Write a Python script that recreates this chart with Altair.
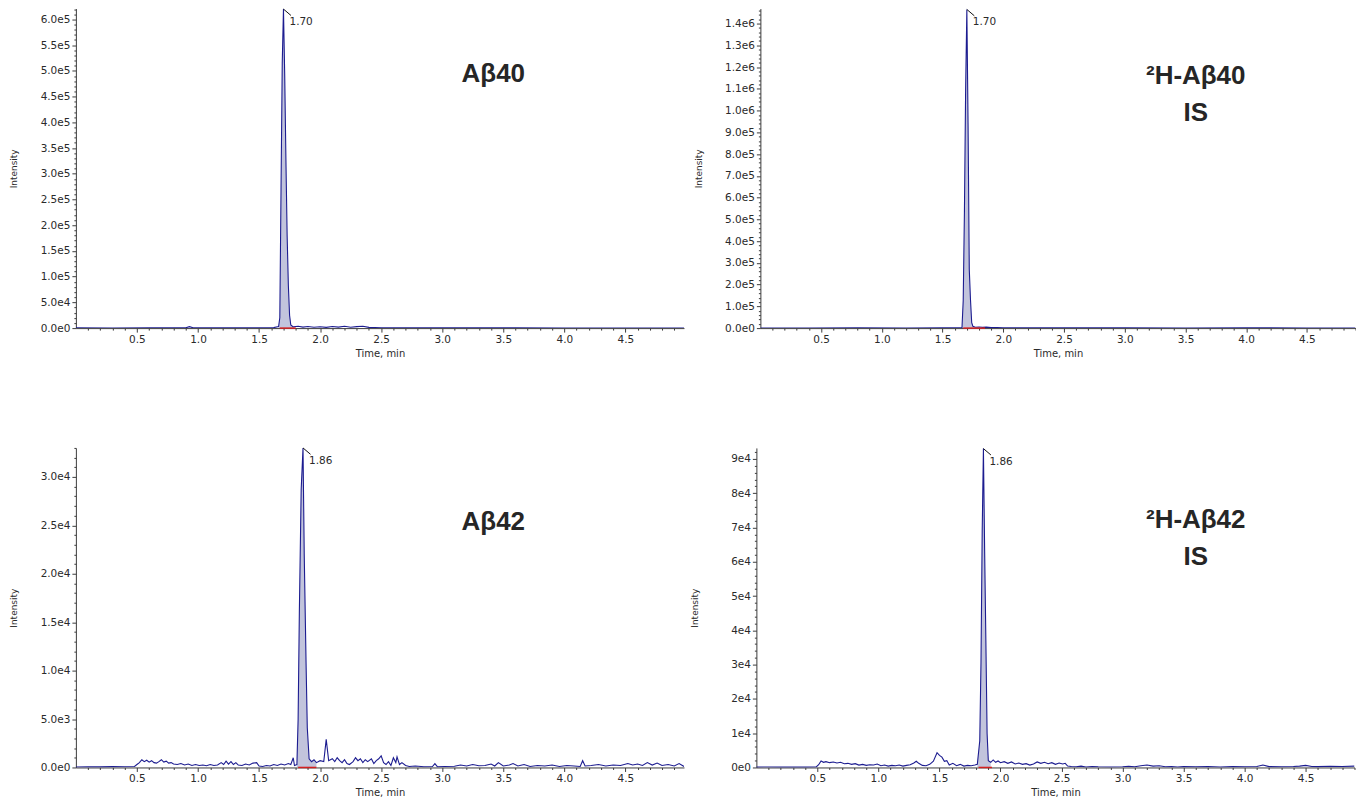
import altair as alt
import pandas as pd

# ---------------- data (time in min, intensity in cps) ----------------
ab40 = [(0.00, 400), (0.30, 300), (0.60, 400), (0.90, 600), (0.93, 2800), (0.96, 600),
        (1.20, 400), (1.50, 500), (1.62, 900), (1.66, 3000), (1.67, 20000), (1.68, 270000),
        (1.69, 516000), (1.70, 620000), (1.71, 493000), (1.72, 328000), (1.73, 180000),
        (1.74, 83000), (1.75, 25000), (1.76, 6000), (1.78, 2500), (1.82, 3500), (1.86, 2000),
        (1.90, 3000), (1.95, 1800), (2.00, 2500), (2.05, 1500), (2.10, 3000), (2.15, 2000),
        (2.20, 3500), (2.25, 1800), (2.30, 2800), (2.35, 3500), (2.40, 1500), (2.50, 800),
        (2.80, 500), (3.20, 400), (3.60, 400), (4.00, 300), (4.40, 300), (4.98, 300)]

ab40_is = [(0.00, 800), (0.40, 700), (0.80, 900), (1.20, 800), (1.50, 1000), (1.62, 1500),
           (1.66, 3000), (1.67, 126000), (1.68, 533000), (1.69, 1100000), (1.70, 1465000),
           (1.71, 940000), (1.72, 270000), (1.73, 130000), (1.74, 25000), (1.75, 8000),
           (1.77, 4000), (1.80, 5000), (1.83, 3500), (1.86, 4500), (1.90, 2500), (1.95, 2000),
           (2.00, 1500), (2.20, 1200), (2.50, 1000), (3.00, 900), (3.50, 800), (4.00, 900),
           (4.50, 800), (4.90, 800)]

ab42 = [(0.00, 50), (0.10, 80), (0.20, 60), (0.30, 90), (0.40, 70), (0.48, 100), (0.50, 300),
        (0.52, 500), (0.54, 800), (0.56, 600), (0.58, 750), (0.60, 550), (0.62, 700), (0.64, 500),
        (0.66, 450), (0.68, 600), (0.70, 800), (0.72, 550), (0.74, 650), (0.76, 450), (0.78, 500),
        (0.80, 350), (0.83, 300), (0.86, 400), (0.89, 250), (0.92, 350), (0.95, 200), (0.98, 300),
        (1.01, 200), (1.04, 250), (1.07, 180), (1.10, 300), (1.13, 200), (1.16, 250), (1.19, 500),
        (1.21, 300), (1.23, 650), (1.25, 350), (1.27, 600), (1.29, 300), (1.31, 500), (1.33, 250),
        (1.36, 200), (1.39, 350), (1.42, 250), (1.45, 450), (1.48, 500), (1.50, 150), (1.53, 100),
        (1.56, 200), (1.59, 150), (1.62, 300), (1.65, 200), (1.68, 350), (1.71, 250), (1.74, 400),
        (1.76, 300), (1.78, 1000), (1.79, 200), (1.81, 300), (1.82, 5000), (1.83, 16000),
        (1.845, 28700), (1.86, 33000), (1.87, 22000), (1.885, 10800), (1.895, 4100), (1.91, 900),
        (1.93, 600), (1.95, 800), (1.97, 500), (2.00, 700), (2.03, 600), (2.05, 2900), (2.07, 700),
        (2.10, 900), (2.12, 600), (2.14, 1000), (2.16, 700), (2.18, 500), (2.20, 800), (2.22, 400),
        (2.24, 300), (2.27, 600), (2.29, 1000), (2.31, 700), (2.33, 900), (2.35, 500), (2.37, 800),
        (2.39, 600), (2.42, 900), (2.44, 400), (2.46, 700), (2.48, 900), (2.50, 1200), (2.52, 500),
        (2.54, 300), (2.56, 600), (2.58, 200), (2.60, 1000), (2.62, 500), (2.63, 1100), (2.65, 300),
        (2.67, 500), (2.70, 200), (2.73, 100), (2.78, 150), (2.85, 80), (2.92, 100), (2.94, 400),
        (2.96, 80), (3.02, 100), (3.10, 120), (3.15, 250), (3.20, 150), (3.25, 300), (3.30, 180),
        (3.35, 200), (3.40, 350), (3.43, 150), (3.46, 500), (3.50, 150), (3.55, 250), (3.58, 400),
        (3.62, 150), (3.67, 300), (3.72, 100), (3.78, 200), (3.84, 150), (3.90, 250), (3.96, 100),
        (4.02, 200), (4.08, 150), (4.13, 100), (4.15, 700), (4.17, 150), (4.22, 200), (4.28, 300),
        (4.34, 150), (4.40, 250), (4.46, 200), (4.52, 400), (4.56, 250), (4.60, 350), (4.64, 200),
        (4.68, 500), (4.72, 250), (4.76, 450), (4.80, 200), (4.85, 300), (4.90, 150), (4.94, 400),
        (4.98, 100)]

ab42_is = [(0.00, 100), (0.10, 150), (0.20, 100), (0.30, 150), (0.40, 100), (0.49, 150),
           (0.51, 800), (0.53, 1900), (0.55, 1500), (0.57, 1700), (0.60, 1400), (0.63, 1600),
           (0.66, 1300), (0.69, 1500), (0.72, 1100), (0.75, 1200), (0.78, 900), (0.81, 1100),
           (0.84, 700), (0.87, 900), (0.90, 600), (0.93, 800), (0.96, 700), (0.99, 1000),
           (1.02, 500), (1.05, 700), (1.08, 400), (1.11, 600), (1.14, 500), (1.17, 700),
           (1.20, 400), (1.23, 600), (1.26, 800), (1.29, 1300), (1.31, 1800), (1.33, 1200),
           (1.36, 600), (1.39, 500), (1.42, 900), (1.45, 1800), (1.48, 4300), (1.50, 3500),
           (1.52, 3000), (1.54, 1800), (1.56, 2000), (1.58, 700), (1.61, 1200), (1.64, 500),
           (1.67, 900), (1.70, 400), (1.73, 600), (1.76, 500), (1.79, 700), (1.81, 900),
           (1.83, 7800), (1.84, 30500), (1.85, 69000), (1.86, 93000), (1.87, 63000),
           (1.88, 37000), (1.89, 10000), (1.90, 2000), (1.92, 1500), (1.94, 2200), (1.96, 1500),
           (1.98, 1900), (2.00, 1400), (2.03, 1700), (2.06, 1200), (2.09, 1600), (2.12, 1000),
           (2.15, 1300), (2.18, 900), (2.21, 1100), (2.24, 700), (2.27, 1000), (2.30, 1600),
           (2.33, 1200), (2.36, 1500), (2.39, 1100), (2.42, 1400), (2.45, 900), (2.48, 1300),
           (2.51, 1000), (2.53, 1200), (2.55, 400), (2.58, 300), (2.62, 200), (2.66, 400),
           (2.70, 150), (2.75, 300), (2.80, 200), (2.90, 150), (3.00, 200), (3.05, 350),
           (3.10, 200), (3.15, 500), (3.20, 700), (3.25, 400), (3.30, 500), (3.35, 200),
           (3.40, 300), (3.45, 150), (3.50, 250), (3.60, 200), (3.70, 300), (3.80, 150),
           (3.90, 250), (4.00, 200), (4.10, 300), (4.15, 700), (4.20, 250), (4.30, 200),
           (4.40, 300), (4.45, 400), (4.50, 600), (4.55, 300), (4.60, 250), (4.70, 350),
           (4.80, 300), (4.90, 400)]

peak_apex_time = [1.70, 1.70, 1.86, 1.86]
peak_apex_int = [620000, 1465000, 33000, 93000]
peak_labels = ["1.70", "1.70", "1.86", "1.86"]
fill_ranges = [(1.66, 1.78), (1.66, 1.77), (1.81, 1.97), (1.81, 1.92)]
base_ranges = [(1.67, 1.80), (1.67, 1.85), (1.82, 1.97), (1.82, 1.93)]
panel_names = [["Aβ40"], ["²H-Aβ40", "IS"], ["Aβ42"], ["²H-Aβ42", "IS"]]
y_max = [621000, 1469000, 33000, 93200]
y_major = [50000, 100000, 5000, 10000]
y_minor = [10000, 20000, 1000, 2000]
y_formats = [".1e", ".1e", ".1e", ".0e"]
x_max = [4.98, 4.90, 4.98, 4.90]

FONT = "Liberation Sans"
AXFONT = "DejaVu Sans"
TXT = "#2a2a2a"
AX = "#3c3c3c"
LINE = "#1c1c90"
FILL = "#c2c4dc"
RED = "#d42020"
H = 320


def panel(k, data, width, name_xy):
    df = pd.DataFrame(data, columns=["t", "i"])
    xs = alt.Scale(domain=[0, x_max[k]], nice=False, zero=False)
    ys = alt.Scale(domain=[0, y_max[k]], nice=False, zero=False)
    xt = [round(0.1 * j, 1) for j in range(1, int(x_max[k] * 10 + 1e-6) + 1)]
    yt = list(range(0, int(y_max[k]) + 1, y_minor[k]))
    xmaj = "abs(datum.value*2 - round(datum.value*2)) < 0.001"
    ymaj = f"datum.value % {y_major[k]} == 0"
    xaxis = alt.Axis(values=xt, title="Time, min", grid=False,
                     labelExpr=f"{xmaj} ? format(datum.value, '.1f') : ''",
                     tickSize={"condition": {"test": xmaj, "value": 4}, "value": 2},
                     labelOverlap=False, labelFlush=False, labelPadding=2, titlePadding=4)
    yaxis = alt.Axis(values=yt, title="Intensity", grid=False,
                     labelExpr=f"{ymaj} ? replace(format(datum.value, '{y_formats[k]}'), '+', '') : ''",
                     tickSize={"condition": {"test": ymaj, "value": 4}, "value": 2},
                     labelOverlap=False, labelFlush=False, labelPadding=2,
                     titleX=-62, titleY=H / 2, titleBaseline="middle", titleFontSize=9)
    X = lambda f: alt.X(f, scale=xs, axis=xaxis)
    Y = lambda f: alt.Y(f, scale=ys, axis=yaxis)

    a, b = fill_ranges[k]
    area = alt.Chart(df).transform_filter(f"datum.t >= {a} && datum.t <= {b}").mark_area(
        color=FILL, clip=True).encode(x=X("t:Q"), y=Y("i:Q"))
    line = alt.Chart(df).mark_line(color=LINE, strokeWidth=1.1, clip=True).encode(
        x=X("t:Q"), y=Y("i:Q"))
    s, e = base_ranges[k]
    base = alt.Chart(pd.DataFrame({"t": [s], "e": [e], "i": [0]})).mark_rule(
        color=RED, strokeWidth=1.5).encode(x=X("t:Q"), x2="e:Q", y=Y("i:Q"))
    apex = pd.DataFrame({"t": [peak_apex_time[k]], "i": [peak_apex_int[k]], "lab": [peak_labels[k]]})
    tickm = alt.Chart(apex).mark_point(shape="M0,0L1,0.85", size=225, filled=False,
                                       color="#111111", strokeWidth=1, opacity=1).encode(
        x=X("t:Q"), y=Y("i:Q"))
    lab = alt.Chart(apex).mark_text(align="left", baseline="middle", dx=6, dy=13, fontSize=10.5,
                                    font=AXFONT, color=TXT).encode(x=X("t:Q"), y=Y("i:Q"), text="lab:N")
    big = alt.Chart(pd.DataFrame({"k": [0]})).mark_text(
        text=panel_names[k] if len(panel_names[k]) > 1 else panel_names[k][0],
        font=FONT, fontSize=26, fontWeight="bold", color="#262626", lineHeight=37,
        align="center", baseline="middle").encode(x=alt.value(name_xy[0]), y=alt.value(name_xy[1]))
    return alt.layer(area, line, base, tickm, lab, big).properties(width=width, height=H)


tl = panel(0, ab40, 609, (418, 66))
tr = panel(1, ab40_is, 596, (436, 68))
bl = panel(2, ab42, 609, (418, 74))
br = panel(3, ab42_is, 599, (440, 72))

top = alt.hconcat(tl, tr, spacing=10.5)
bottom = alt.hconcat(bl, br, spacing=6.5)
chart = alt.vconcat(top, bottom, spacing=84).properties(
    padding={"left": 10, "top": 3, "right": 0, "bottom": 0}, background="white"
).configure_view(stroke=None).configure_axis(
    labelFont=AXFONT, titleFont=AXFONT, labelFontSize=10.5, titleFontSize=10, titleFontWeight="normal",
    labelColor=TXT, titleColor=TXT, domainColor=AX, tickColor=AX, domainWidth=1, tickWidth=1
)

chart.save("out.html", embed_options={"renderer": "svg", "actions": False})
